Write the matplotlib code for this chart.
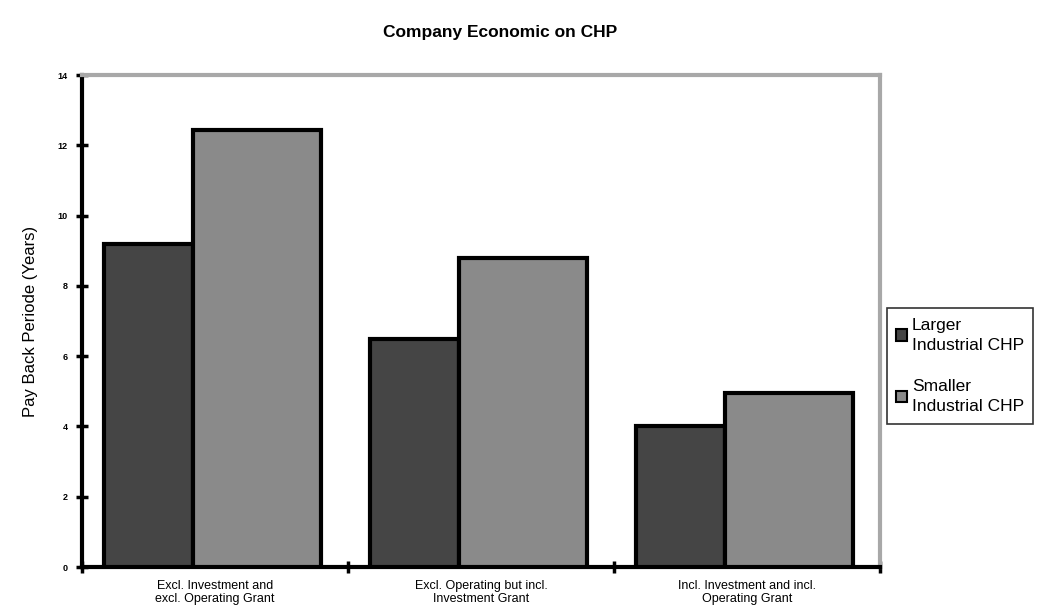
import numpy as np
import matplotlib
matplotlib.use('Agg')
import matplotlib.pyplot as plt

# data
categories = ['Excl. Investment and\nexcl. Operating Grant',
              'Excl. Operating but incl.\nInvestment Grant',
              'Incl. Investment and incl.\nOperating Grant']
larger_chp = [9.2, 6.5, 4.0]
smaller_chp = [12.45, 8.8, 4.95]
series_labels = ['Larger\nIndustrial CHP', 'Smaller\nIndustrial CHP']

plt.rcParams['font.family'] = ['Liberation Sans', 'DejaVu Sans']

fig = plt.figure(figsize=(10.48, 6.16), dpi=100)
ax = fig.add_axes([0.0782, 0.0795, 0.7615, 0.7987])

x = np.arange(len(categories))
offset = 0.083
w_large = 0.335
w_small = 0.48

ax.bar(x + offset, larger_chp, width=w_large, align='edge',
       color='#454545', edgecolor='black', linewidth=3, label=series_labels[0], zorder=3)
ax.bar(x + offset + w_large, smaller_chp, width=w_small, align='edge',
       color='#8a8a8a', edgecolor='black', linewidth=3, label=series_labels[1], zorder=3)

ax.set_xlim(0, 3)
ax.set_ylim(0, 14)

# axes frame: black left/bottom, grey top/right
for side in ['left', 'bottom']:
    ax.spines[side].set_color('black')
    ax.spines[side].set_linewidth(3)
for side in ['top', 'right']:
    ax.spines[side].set_color('#a8a8a8')
    ax.spines[side].set_linewidth(3)

ax.set_yticks(np.arange(0, 15, 2))
ax.tick_params(axis='y', direction='inout', length=9, width=2.5, labelsize=6.5, pad=6)
for lbl in ax.get_yticklabels():
    lbl.set_fontweight('bold')

ax.set_xticks([0, 1, 2, 3])
ax.set_xticklabels([])
ax.tick_params(axis='x', which='major', direction='inout', length=9, width=2.5)
ax.set_xticks(x + 0.5, minor=True)
ax.set_xticklabels(categories, minor=True, fontsize=9, linespacing=1.15)
ax.tick_params(axis='x', which='minor', length=0, pad=9)

ax.set_ylabel('Pay Back Periode (Years)', fontsize=12, labelpad=14)
fig.text(0.477, 0.947, 'Company Economic on CHP', ha='center', va='center',
         fontsize=12.5, fontweight='bold')

leg = ax.legend(loc='upper left', bbox_to_anchor=(0.846, 0.5),
                bbox_transform=fig.transFigure, fontsize=12.5,
                frameon=True, fancybox=False, handlelength=0.65, handleheight=0.65,
                handletextpad=0.25, borderpad=0.55, labelspacing=1.5, borderaxespad=0)
leg.get_frame().set_edgecolor('black')
leg.get_frame().set_linewidth(1.2)
for h in leg.legend_handles:
    h.set_linewidth(1.5)
for t in leg.get_texts():
    t.set_linespacing(1.45)

fig.savefig('out.png', dpi=100)
